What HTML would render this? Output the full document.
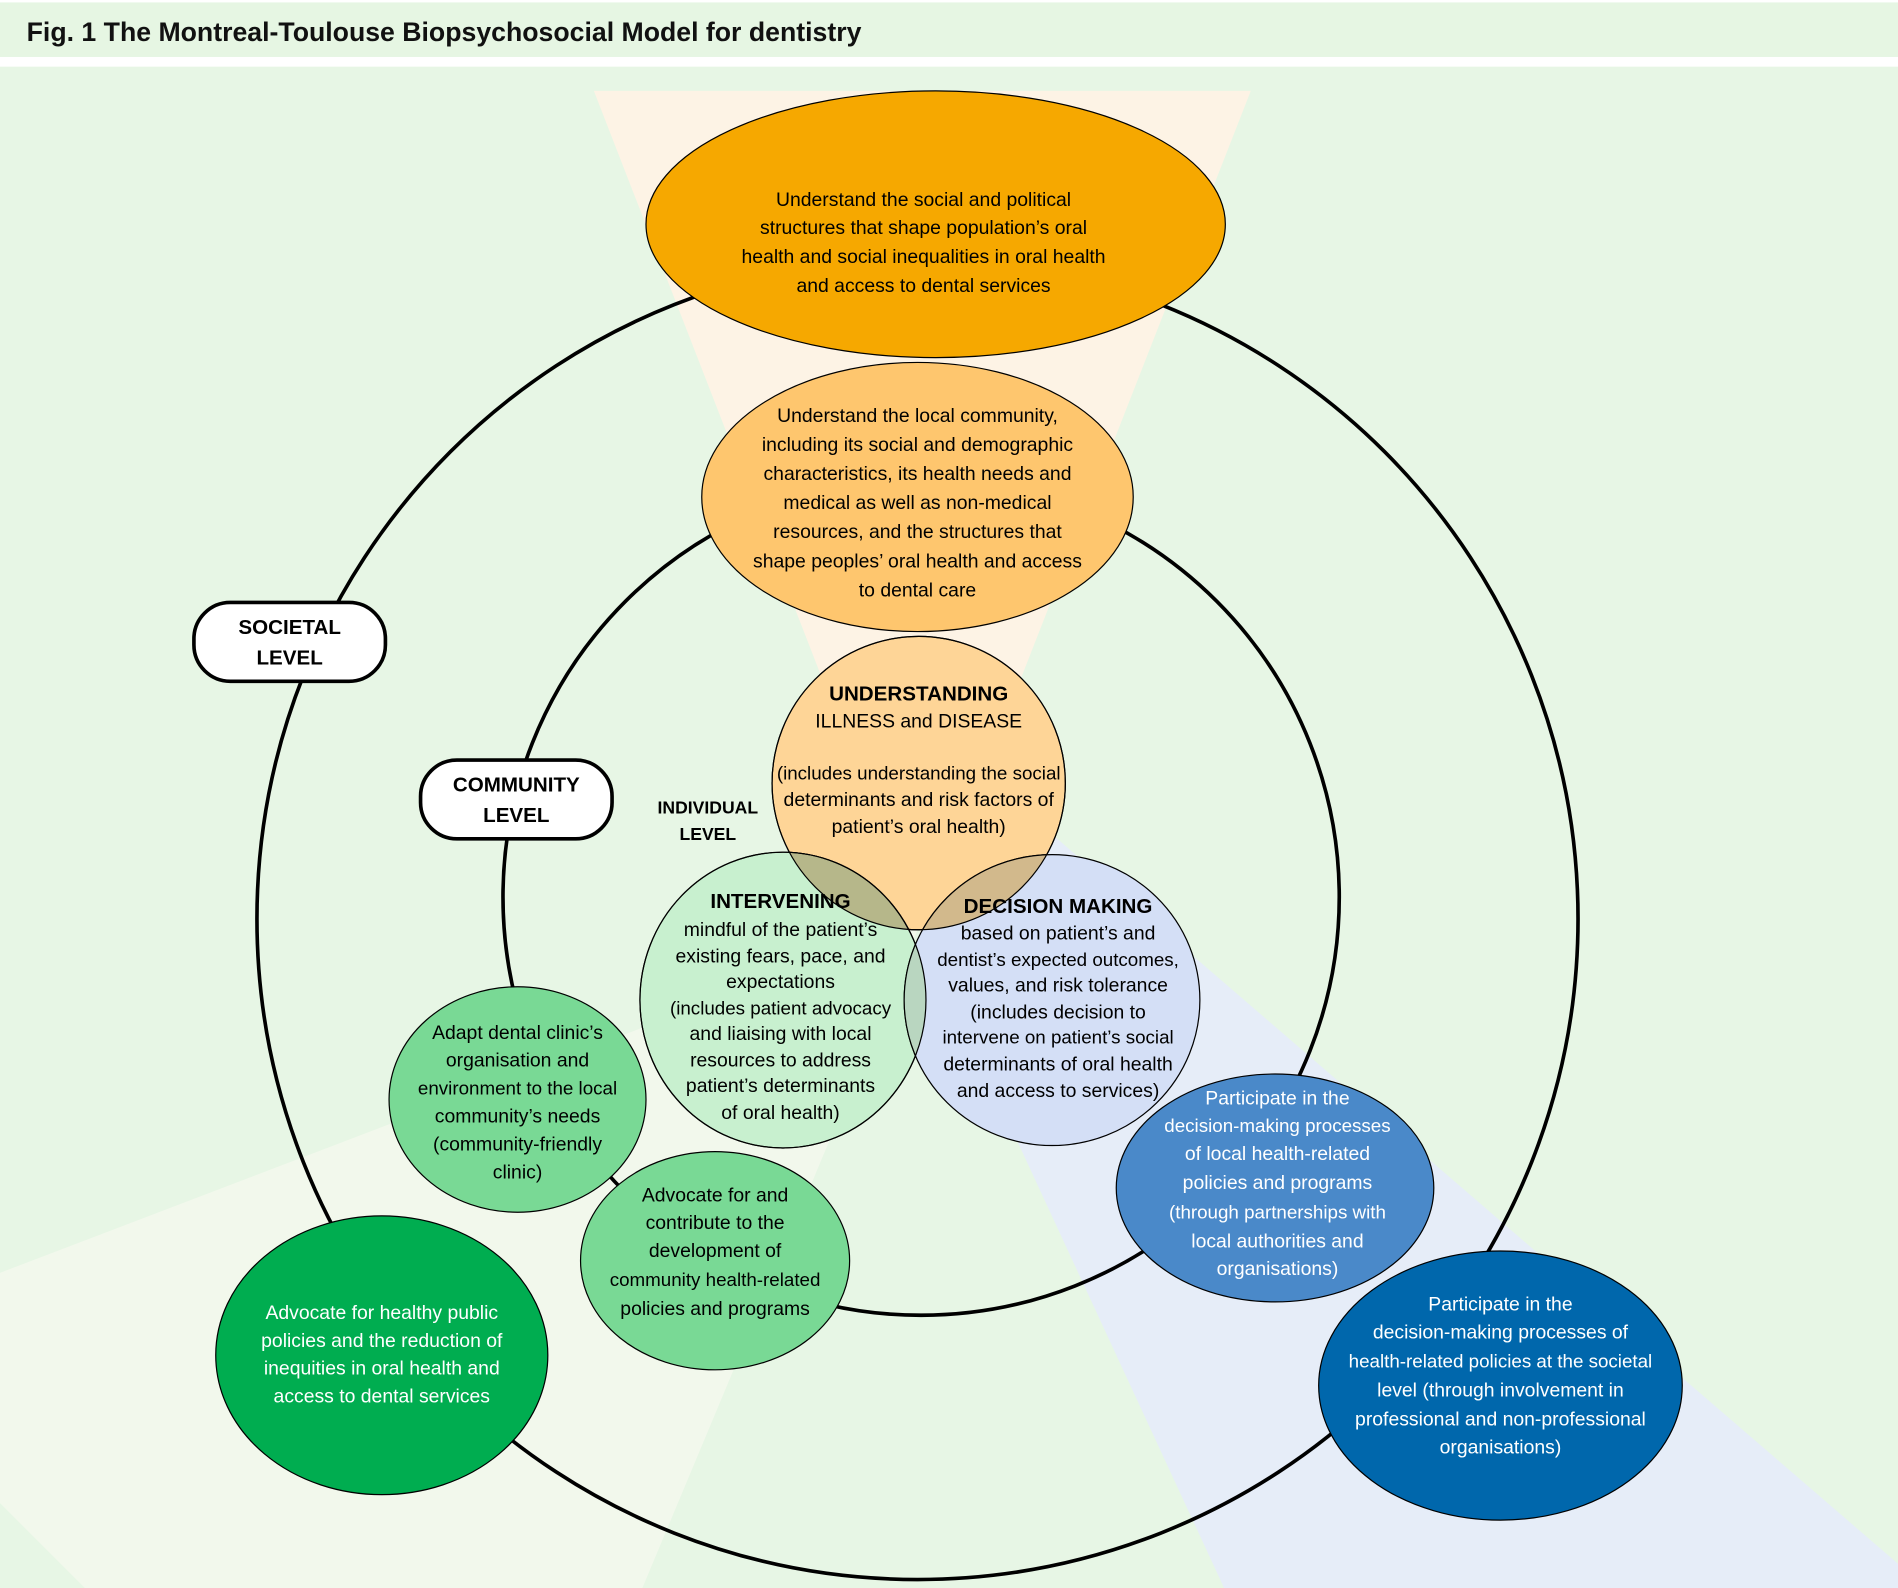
<!DOCTYPE html>
<html><head><meta charset="utf-8"><style>
html,body{margin:0;padding:0;background:#fff;}
svg{display:block;}
text{font-family:"Liberation Sans Narrow","Liberation Sans",sans-serif;}
</style></head><body>
<svg width="1898" height="1588" viewBox="0 0 1566 1310" preserveAspectRatio="none" xmlns="http://www.w3.org/2000/svg">
<defs>
<clipPath id="cu"><ellipse cx="758" cy="646" rx="121" ry="121"/></clipPath>
<clipPath id="ci"><ellipse cx="646" cy="825" rx="118" ry="122"/></clipPath>
</defs>
<rect x="0" y="0" width="1566" height="1310" fill="#ffffff"/>
<rect x="0" y="2" width="1566" height="45" fill="#e6f6e3"/>
<text x="22" y="34" font-size="22" font-weight="bold" fill="#111">Fig. 1  The Montreal-Toulouse Biopsychosocial Model for dentistry</text>
<rect x="0" y="55" width="1566" height="1255" fill="#e7f6e5"/>
<polygon points="760,760 0,1050 0,1240 70,1310 530,1310" fill="#f2f8ec"/>
<polygon points="870,690 1566,1290 1566,1310 1010,1310 760,770" fill="#e6edf8"/>
<polygon points="490,75 1032,75 760,770" fill="#fdf3e5"/>
<g fill="none" stroke="#000" stroke-width="3">
<circle cx="757" cy="758" r="545"/>
<circle cx="760" cy="740" r="345"/>
</g>
<g stroke="#000" stroke-width="1">
<ellipse cx="772" cy="185" rx="239" ry="110" fill="#f6a800"/>
<ellipse cx="757" cy="410" rx="178" ry="111" fill="#fec66e"/>
<ellipse cx="758" cy="646" rx="121" ry="121" fill="#fed597"/>
<ellipse cx="646" cy="825" rx="118" ry="122" fill="#c8f0cf"/>
<ellipse cx="868" cy="825" rx="122" ry="120" fill="#d4dff6"/>
<g clip-path="url(#cu)"><ellipse cx="646" cy="825" rx="118" ry="122" fill="#b6b78a"/><ellipse cx="868" cy="825" rx="122" ry="120" fill="#d2b98c"/></g>
<g clip-path="url(#ci)"><ellipse cx="868" cy="825" rx="122" ry="120" fill="#b9d6c0"/></g>
<ellipse cx="758" cy="646" rx="121" ry="121" fill="none"/>
<ellipse cx="646" cy="825" rx="118" ry="122" fill="none"/>
<ellipse cx="427" cy="907" rx="106" ry="93" fill="#79d995"/>
<ellipse cx="590" cy="1040" rx="111" ry="90" fill="#79d995"/>
<ellipse cx="315" cy="1118" rx="137" ry="115" fill="#00ad50"/>
<ellipse cx="1052" cy="980" rx="131" ry="94" fill="#4a89c9"/>
<ellipse cx="1238" cy="1143" rx="150" ry="111" fill="#0067ac"/>
</g>
<rect x="160" y="497" width="158" height="65" rx="30" fill="#fff" stroke="#000" stroke-width="3"/>
<rect x="347" y="627" width="158" height="65" rx="30" fill="#fff" stroke="#000" stroke-width="3"/>
<g font-size="17" font-weight="bold" text-anchor="middle" fill="#000">
<text x="239" y="523">SOCIETAL</text><text x="239" y="548">LEVEL</text>
<text x="426" y="653">COMMUNITY</text><text x="426" y="678">LEVEL</text>
</g>
<g font-size="14.5" font-weight="bold" text-anchor="middle"><text x="584" y="671">INDIVIDUAL</text><text x="584" y="693">LEVEL</text></g>
<g font-size="16" text-anchor="middle" fill="#000">
<text x="762" y="170">Understand the social and political</text>
<text x="762" y="193">structures that shape population’s oral</text>
<text x="762" y="217">health and social inequalities in oral health</text>
<text x="762" y="241">and access to dental services</text>
<text x="757" y="348">Understand the local community,</text>
<text x="757" y="372">including its social and demographic</text>
<text x="757" y="396">characteristics, its health needs and</text>
<text x="757" y="420">medical as well as non-medical</text>
<text x="757" y="444">resources, and the structures that</text>
<text x="757" y="468">shape peoples’ oral health and access</text>
<text x="757" y="492">to dental care</text>
<text x="758" y="578" font-weight="bold" font-size="17">UNDERSTANDING</text>
<text x="758" y="600">ILLNESS and DISEASE</text>
<text x="758" y="643" font-size="15.5">(includes understanding the social</text>
<text x="758" y="665">determinants and risk factors of</text>
<text x="758" y="687">patient’s oral health)</text>
<text x="644" y="749" font-weight="bold" font-size="17">INTERVENING</text>
<text x="644" y="772">mindful of the patient’s</text>
<text x="644" y="794">existing fears, pace, and</text>
<text x="644" y="815">expectations</text>
<text x="644" y="837" font-size="15.5">(includes patient advocacy</text>
<text x="644" y="858">and liaising with local</text>
<text x="644" y="880">resources to address</text>
<text x="644" y="901">patient’s determinants</text>
<text x="644" y="923">of oral health)</text>
<text x="873" y="753" font-weight="bold" font-size="17">DECISION MAKING</text>
<text x="873" y="775">based on patient’s and</text>
<text x="873" y="797" font-size="15.5">dentist’s expected outcomes,</text>
<text x="873" y="818">values, and risk tolerance</text>
<text x="873" y="840">(includes decision to</text>
<text x="873" y="861" font-size="15.5">intervene on patient’s social</text>
<text x="873" y="883">determinants of oral health</text>
<text x="873" y="905">and access to services)</text>
<text x="427" y="857">Adapt dental clinic’s</text>
<text x="427" y="880">organisation and</text>
<text x="427" y="903" font-size="15.5">environment to the local</text>
<text x="427" y="926">community’s needs</text>
<text x="427" y="949">(community-friendly</text>
<text x="427" y="972">clinic)</text>
<text x="590" y="991">Advocate for and</text>
<text x="590" y="1014">contribute to the</text>
<text x="590" y="1037">development of</text>
<text x="590" y="1061" font-size="15.5">community health-related</text>
<text x="590" y="1085">policies and programs</text>
</g>
<g font-size="16" text-anchor="middle" fill="#fff">
<text x="315" y="1088">Advocate for healthy public</text>
<text x="315" y="1111">policies and the reduction of</text>
<text x="315" y="1134">inequities in oral health and</text>
<text x="315" y="1157">access to dental services</text>
<text x="1054" y="911">Participate in the</text>
<text x="1054" y="934" font-size="15.5">decision-making processes</text>
<text x="1054" y="957">of local health-related</text>
<text x="1054" y="981">policies and programs</text>
<text x="1054" y="1005" font-size="15.5">(through partnerships with</text>
<text x="1054" y="1029">local authorities and</text>
<text x="1054" y="1052">organisations)</text>
<text x="1238" y="1081">Participate in the</text>
<text x="1238" y="1104">decision-making processes of</text>
<text x="1238" y="1128" font-size="15.5">health-related policies at the societal</text>
<text x="1238" y="1152">level (through involvement in</text>
<text x="1238" y="1176">professional and non-professional</text>
<text x="1238" y="1199">organisations)</text>
</g>
</svg>
</body></html>
